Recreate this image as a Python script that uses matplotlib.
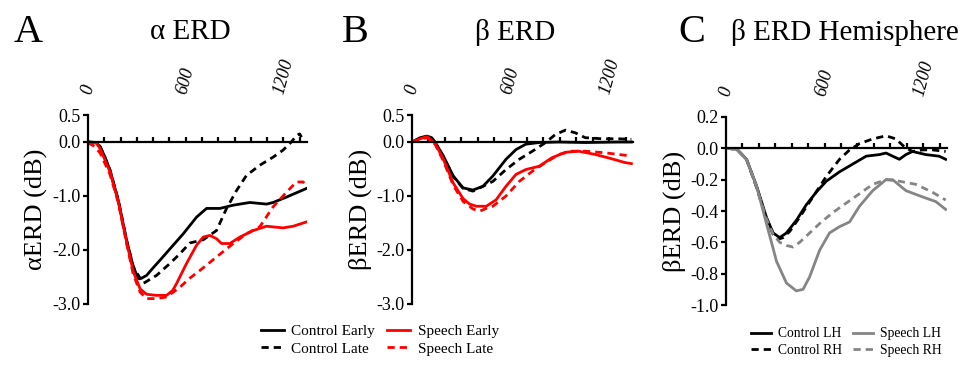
import matplotlib
matplotlib.use("Agg")
import matplotlib.pyplot as plt

plt.rcParams['font.family'] = ['Liberation Serif', 'DejaVu Serif']

# ---- Panel A: alpha ERD (time in ms, dB) ----
a_ce_t = [0, 50, 74, 100, 135, 186, 237, 278, 309, 330, 360, 400, 442, 503, 585, 667, 728, 810, 892, 994, 1096, 1137, 1219, 1342]
a_ce_v = [0, -0.01, -0.09, -0.25, -0.52, -1.08, -1.82, -2.31, -2.53, -2.52, -2.47, -2.33, -2.19, -1.98, -1.70, -1.39, -1.23, -1.23, -1.17, -1.12, -1.15, -1.12, -1.02, -0.86]
a_cl_t = [0, 50, 74, 100, 135, 186, 237, 278, 339, 421, 503, 564, 626, 708, 789, 851, 912, 973, 1055, 1137, 1198, 1249, 1280, 1300, 1311]
a_cl_v = [0, -0.01, -0.08, -0.25, -0.52, -1.08, -1.82, -2.31, -2.62, -2.47, -2.25, -2.07, -1.87, -1.81, -1.64, -1.23, -0.90, -0.62, -0.43, -0.28, -0.15, 0.0, 0.12, 0.15, 0.09]
a_se_t = [0, 50, 74, 135, 186, 237, 278, 320, 360, 420, 483, 520, 544, 605, 667, 708, 749, 789, 820, 871, 933, 1014, 1096, 1198, 1260, 1342]
a_se_v = [0, -0.02, -0.12, -0.55, -1.10, -1.85, -2.40, -2.72, -2.82, -2.84, -2.84, -2.75, -2.62, -2.25, -1.91, -1.76, -1.73, -1.79, -1.88, -1.88, -1.76, -1.64, -1.56, -1.59, -1.56, -1.48]
a_sl_t = [0, 30, 74, 135, 186, 237, 278, 320, 360, 420, 483, 564, 626, 687, 789, 892, 973, 1055, 1137, 1219, 1280, 1321, 1342]
a_sl_v = [-0.02, -0.06, -0.20, -0.60, -1.12, -1.88, -2.45, -2.78, -2.90, -2.90, -2.87, -2.69, -2.52, -2.38, -2.13, -1.88, -1.70, -1.57, -1.20, -0.93, -0.74, -0.74, -0.80]

# ---- Panel B: beta ERD ----
b_ce_t = [0, 50, 90, 120, 140, 191, 251, 311, 371, 432, 492, 572, 633, 693, 773, 894, 1054, 1255, 1335]
b_ce_v = [0, 0.08, 0.11, 0.08, 0, -0.26, -0.63, -0.85, -0.89, -0.82, -0.63, -0.32, -0.14, -0.04, -0.01, 0, -0.01, 0, 0]
b_cl_t = [0, 50, 90, 120, 140, 191, 251, 311, 371, 432, 492, 572, 653, 733, 813, 873, 934, 994, 1054, 1155, 1255, 1335]
b_cl_v = [0, 0.07, 0.10, 0.07, -0.01, -0.27, -0.64, -0.86, -0.91, -0.82, -0.73, -0.51, -0.32, -0.17, -0.01, 0.14, 0.22, 0.17, 0.08, 0.06, 0.06, 0.05]
b_se_t = [0, 50, 90, 140, 191, 251, 311, 351, 392, 452, 512, 572, 633, 693, 773, 853, 934, 1014, 1114, 1215, 1295, 1335]
b_se_v = [0, 0.06, 0.10, -0.02, -0.32, -0.76, -1.05, -1.15, -1.19, -1.19, -1.07, -0.82, -0.60, -0.51, -0.45, -0.29, -0.19, -0.17, -0.23, -0.31, -0.38, -0.40]
b_sl_t = [0, 50, 90, 140, 191, 251, 311, 371, 412, 452, 492, 572, 653, 733, 813, 894, 974, 1054, 1175, 1255, 1335]
b_sl_v = [0, 0.05, 0.08, -0.04, -0.35, -0.80, -1.10, -1.24, -1.28, -1.23, -1.19, -1.00, -0.73, -0.54, -0.38, -0.23, -0.17, -0.17, -0.20, -0.23, -0.26]

# ---- Panel C: beta ERD by hemisphere ----
c_clh_t = [0, 65, 125, 186, 246, 287, 327, 368, 428, 489, 549, 610, 691, 772, 853, 933, 974, 1014, 1055, 1095, 1135, 1216, 1297, 1337]
c_clh_v = [0, -0.005, -0.07, -0.24, -0.44, -0.54, -0.57, -0.54, -0.46, -0.36, -0.28, -0.21, -0.15, -0.10, -0.05, -0.04, -0.03, -0.05, -0.07, -0.04, -0.02, -0.04, -0.05, -0.07]
c_crh_t = [0, 65, 125, 186, 246, 287, 317, 348, 388, 448, 529, 610, 691, 752, 812, 893, 974, 1034, 1085, 1135, 1196, 1257, 1337]
c_crh_v = [0, -0.005, -0.07, -0.25, -0.45, -0.55, -0.58, -0.57, -0.53, -0.44, -0.31, -0.18, -0.07, -0.01, 0.03, 0.06, 0.08, 0.06, 0.01, -0.02, -0.01, -0.01, -0.02]
c_slh_t = [0, 65, 125, 186, 246, 287, 307, 368, 428, 469, 509, 570, 630, 691, 752, 812, 893, 974, 1014, 1095, 1196, 1277, 1337]
c_slh_v = [0, -0.005, -0.07, -0.24, -0.48, -0.64, -0.72, -0.86, -0.91, -0.90, -0.82, -0.65, -0.54, -0.50, -0.47, -0.37, -0.27, -0.20, -0.20, -0.27, -0.31, -0.34, -0.39]
c_srh_t = [0, 65, 125, 186, 246, 287, 327, 368, 408, 448, 489, 570, 650, 731, 812, 893, 974, 1055, 1156, 1256, 1337]
c_srh_v = [0, -0.005, -0.07, -0.25, -0.45, -0.55, -0.60, -0.62, -0.63, -0.60, -0.56, -0.48, -0.41, -0.35, -0.29, -0.23, -0.20, -0.21, -0.23, -0.28, -0.33]

ab_yticks = [0.5, 0.0, -1.0, -2.0, -3.0]
c_yticks = [0.2, 0.0, -0.2, -0.4, -0.6, -0.8, -1.0]
top_ticks = [0, 600, 1200]

RED = '#ff0000'
GRAY = '#858585'
DASH = (0, (2.6, 1.8))
LW = 2.0

fig = plt.figure(figsize=(9.68, 3.65), dpi=100)
W, H = 968, 365


def make_ax(left, right, top, bottom, ylim, yticks, ylabel):
    ax = fig.add_axes([left / W, 1 - bottom / H, (right - left) / W, (bottom - top) / H])
    ax.set_xlim(0, 1345)
    ax.set_ylim(ylim)
    for s in ['top', 'right']:
        ax.spines[s].set_visible(False)
    ax.spines['bottom'].set_position(('data', 0))
    ax.spines['bottom'].set_linewidth(1.6)
    ax.spines['left'].set_linewidth(1.6)
    ax.set_xticks(range(100, 1400, 100))
    ax.tick_params(axis='x', direction='in', length=3.5, width=1.6, labelbottom=False)
    ax.set_yticks(yticks)
    ax.set_yticklabels(['%.1f' % v for v in yticks])
    ax.tick_params(axis='y', direction='out', length=3.5, width=1.6, labelsize=13, pad=2)
    ax.set_ylabel(ylabel, fontsize=19, labelpad=3)
    # time labels sit above the plot
    sec = ax.secondary_xaxis('top')
    sec.set_xticks(top_ticks)
    sec.set_xticklabels([str(t) for t in top_ticks], style='italic')
    sec.tick_params(length=0, pad=14, labelsize=13, labelrotation=75)
    sec.spines['top'].set_visible(False)
    ax.patch.set_visible(False)
    return ax


axA = make_ax(88, 307, 115, 304, (-3.0, 0.5), ab_yticks, 'αERD (dB)')
axA.plot(a_ce_t, a_ce_v, color='black', lw=LW, label='Control Early')
axA.plot(a_cl_t, a_cl_v, color='black', lw=LW, ls=DASH, label='Control Late')
axA.plot(a_se_t, a_se_v, color=RED, lw=LW, label='Speech Early')
axA.plot(a_sl_t, a_sl_v, color=RED, lw=LW, ls=DASH, label='Speech Late')

axB = make_ax(412, 633, 115, 304, (-3.0, 0.5), ab_yticks, 'βERD (dB)')
axB.plot(b_ce_t, b_ce_v, color='black', lw=LW)
axB.plot(b_cl_t, b_cl_v, color='black', lw=LW, ls=DASH)
axB.plot(b_se_t, b_se_v, color=RED, lw=LW)
axB.plot(b_sl_t, b_sl_v, color=RED, lw=LW, ls=DASH)

axC = make_ax(726, 947, 117, 305, (-1.0, 0.2), c_yticks, 'βERD (dB)')
axC.plot(c_clh_t, c_clh_v, color='black', lw=LW, label='Control LH')
axC.plot(c_crh_t, c_crh_v, color='black', lw=LW, ls=DASH, label='Control RH')
axC.plot(c_slh_t, c_slh_v, color=GRAY, lw=LW, label='Speech LH')
axC.plot(c_srh_t, c_srh_v, color=GRAY, lw=LW, ls=DASH, label='Speech RH')

# panel letters and titles
for x, letter in [(28, 'A'), (355, 'B'), (692, 'C')]:
    fig.text(x / W, 1 - 32 / H, letter, fontsize=29, ha='center', va='center')
fig.text(190 / W, 1 - 32 / H, 'α ERD', fontsize=21, ha='center', va='center')
fig.text(515 / W, 1 - 32 / H, 'β ERD', fontsize=21, ha='center', va='center')
fig.text(845 / W, 1 - 32 / H, 'β ERD Hemisphere', fontsize=21, ha='center', va='center')

leg_kw = dict(ncol=2, frameon=False, handlelength=1.5, handletextpad=0.5,
              columnspacing=0.8, labelspacing=0.25, borderpad=0)
fig.legend(*axA.get_legend_handles_labels(), loc='center', bbox_to_anchor=(380 / W, 1 - 340 / H),
           fontsize=11, **leg_kw)
fig.legend(*axC.get_legend_handles_labels(), loc='center', bbox_to_anchor=(846 / W, 1 - 342 / H),
           fontsize=9.8, **leg_kw)

plt.savefig('out.png', dpi=100)
